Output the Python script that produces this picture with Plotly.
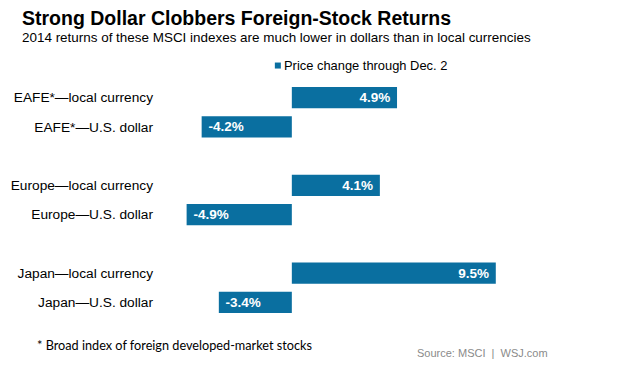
import plotly.graph_objects as go

labels = ["EAFE*—local currency", "EAFE*—U.S. dollar",
          "Europe—local currency", "Europe—U.S. dollar",
          "Japan—local currency", "Japan—U.S. dollar"]
values = [4.9, -4.2, 4.1, -4.9, 9.5, -3.4]
slots = [0, 1, 3, 4, 6, 7]
legend_name = "Price change through Dec. 2"
text_labels = ["\u00a0<b>" + f"{v:.1f}%" + "</b>\u00a0" for v in values]

BLUE = "#0a6fa0"
FONT = "Liberation Sans, Arial, sans-serif"

# page body has an 8px default margin; work in screen coordinates and offset
OFF = 8
W, H = 627 - OFF, 365 - OFF
PL, PR, PT, PB = 160, 528.5, 83.4, 316.6  # plot area in screen pixels
L, R, T, B = PL - OFF, W - (PR - OFF), PT - OFF, H - (PB - OFF)
PW, PH = PR - PL, PB - PT


def px(x):
    return (x - PL) / PW


def py(y):
    return 1 - (y - PT) / PH


fig = go.Figure()
fig.add_trace(go.Bar(
    x=values, y=slots, orientation="h", width=0.72,
    marker=dict(color=BLUE, line=dict(width=0)),
    name=legend_name,
    text=text_labels, textposition="inside", insidetextanchor="end",
    textfont=dict(color="white", size=13.5, family=FONT),
    showlegend=False, hoverinfo="skip",
))

fig.update_layout(
    width=W, height=H,
    margin=dict(l=L, r=R, t=T, b=B, autoexpand=False),
    paper_bgcolor="white", plot_bgcolor="white",
    font=dict(family=FONT, color="black"),
    xaxis=dict(range=[-6.14, 11], visible=False, showgrid=False, zeroline=False, automargin=False),
    yaxis=dict(range=[7.5, -0.5], tickvals=slots, ticktext=labels, showgrid=False,
               zeroline=False, showline=False, ticks="", tickfont=dict(size=13.7, color="black"),
               ticklabelstandoff=6, automargin=False),
    showlegend=False,
    shapes=[dict(type="rect", xref="paper", yref="paper",
                 x0=px(275), x1=px(281), y0=py(63), y1=py(69),
                 fillcolor=BLUE, line=dict(width=0))],
    annotations=[
        dict(text="<b>Strong Dollar Clobbers Foreign-Stock Returns</b>", xref="paper", yref="paper",
             x=px(20), y=py(19), xanchor="left", yanchor="middle",
             showarrow=False, font=dict(size=19.5, color="black")),
        dict(text="2014 returns of these MSCI indexes are much lower in dollars than in local currencies",
             xref="paper", yref="paper", x=px(20), y=py(38),
             xanchor="left", yanchor="middle", showarrow=False, font=dict(size=13.45, color="black")),
        dict(text=legend_name, xref="paper", yref="paper", x=px(282), y=py(66),
             xanchor="left", yanchor="middle", showarrow=False, font=dict(size=12.9, color="black")),
        dict(text="* Broad index of foreign developed-market stocks", xref="paper", yref="paper",
             x=px(35), y=py(345), xanchor="left", yanchor="middle",
             showarrow=False, font=dict(size=12.7, color="black", family="Lato, sans-serif")),
        dict(text="Source: MSCI\u00a0\u00a0|\u00a0\u00a0WSJ.com", xref="paper", yref="paper",
             x=px(415), y=py(352), xanchor="left", yanchor="middle",
             showarrow=False, font=dict(size=11.0, color="#8a8a8a")),
    ],
)

fig.write_html("out.html")
